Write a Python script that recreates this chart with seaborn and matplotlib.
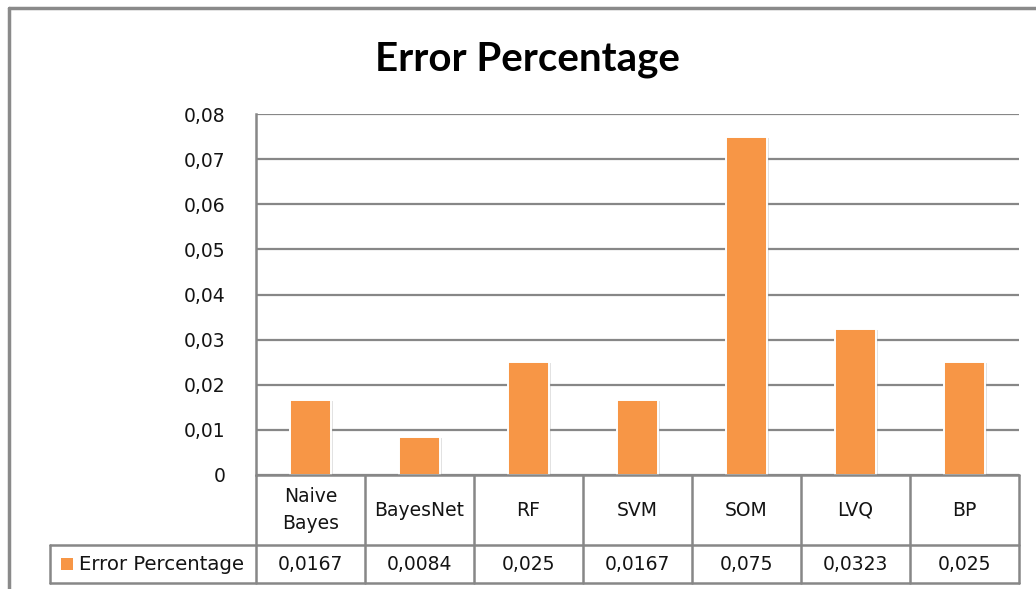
import matplotlib
matplotlib.use("Agg")
import matplotlib.pyplot as plt
import matplotlib.patheffects as pe
from matplotlib.lines import Line2D
from matplotlib.patches import Rectangle
import seaborn as sns
import pandas as pd

# ---- data ----
categories = ["Naive Bayes", "BayesNet", "RF", "SVM", "SOM", "LVQ", "BP"]
table_labels = ["Naive\nBayes", "BayesNet", "RF", "SVM", "SOM", "LVQ", "BP"]
values = [0.0167, 0.0084, 0.025, 0.0167, 0.075, 0.0323, 0.025]
series_name = "Error Percentage"
title = "Error Percentage"
yticks = [0, 0.01, 0.02, 0.03, 0.04, 0.05, 0.06, 0.07, 0.08]

sns.set_theme(style="white")
plt.rcParams["font.family"] = ["DejaVu Sans"]

BODY = 13.5
TXT_C = "#141414"

W, H = 1036, 589
fig = plt.figure(figsize=(W / 100, H / 100), dpi=100)
fig.patch.set_facecolor("white")

def fx(px):
    return px / W

def fy(py):
    return 1 - py / H

ax_left, ax_right, ax_top, ax_bottom = 256, 1019, 114, 475
ax = fig.add_axes([fx(ax_left), fy(ax_bottom), fx(ax_right - ax_left), (ax_bottom - ax_top) / H])

df = pd.DataFrame({"cat": categories, "val": values})
sns.barplot(data=df, x="cat", y="val", color="#F79646", saturation=1, width=0.385,
            ax=ax, edgecolor="white", linewidth=1.4, zorder=3)
for p in ax.patches:
    p.set_path_effects([pe.SimplePatchShadow(offset=(1.2, -0.8), shadow_rgbFace="#a0a0a0", alpha=0.3),
                        pe.Normal()])

ax.set_xlim(-0.5, len(categories) - 0.5)
ax.set_ylim(0, 0.08)
ax.set_yticks(yticks)
ax.set_yticklabels(["0" if t == 0 else f"{t:.2f}".replace(".", ",") for t in yticks],
                   fontsize=BODY, color=TXT_C)
ax.tick_params(axis="y", length=0, pad=22)
ax.set_xticks([])
ax.set_xlabel("")
ax.set_ylabel("")
grid_c = "#878787"
ax.yaxis.grid(True, color=grid_c, linewidth=1.6, zorder=0)
ax.set_axisbelow(True)
for s in ["top", "right", "bottom"]:
    ax.spines[s].set_visible(False)
ax.spines["left"].set_color(grid_c)
ax.spines["left"].set_linewidth(1.8)

# ---- data table beneath the plot ----
row1_bottom = 545
row2_bottom = 583
legend_left = 50
col_edges_px = []
for i in range(len(categories) + 1):
    xd = i - 0.5
    col_edges_px.append(ax.transData.transform((xd, 0))[0])

lw = 1.8
def hline(y, x0, x1):
    fig.add_artist(Line2D([fx(x0), fx(x1)], [fy(y), fy(y)], color=grid_c, linewidth=lw))

def vline(x, y0, y1):
    fig.add_artist(Line2D([fx(x), fx(x)], [fy(y0), fy(y1)], color=grid_c, linewidth=lw))

hline(ax_bottom, col_edges_px[0], col_edges_px[-1])
hline(row1_bottom, legend_left, col_edges_px[-1])
hline(row2_bottom, legend_left, col_edges_px[-1])
for xe in col_edges_px:
    vline(xe, ax_bottom, row2_bottom)
vline(legend_left, row1_bottom, row2_bottom)

for i, (lab, v) in enumerate(zip(table_labels, values)):
    xc = (col_edges_px[i] + col_edges_px[i + 1]) / 2
    fig.text(fx(xc), fy((ax_bottom + row1_bottom) / 2), lab, ha="center", va="center",
             fontsize=BODY, color=TXT_C, linespacing=1.5)
    fig.text(fx(xc), fy((row1_bottom + row2_bottom) / 2 + 1), f"{v}".replace(".", ","),
             ha="center", va="center", fontsize=BODY, color=TXT_C)

# legend key
fig.add_artist(Rectangle((fx(61), fy(570)), fx(12), 12 / H, facecolor="#F79646", edgecolor="none"))
fig.text(fx(79), fy((row1_bottom + row2_bottom) / 2 + 1), series_name, ha="left", va="center",
         fontsize=14.2, color=TXT_C)

# title
fig.text(fx(527), fy(71), title, ha="center", va="baseline", fontsize=29,
         fontweight="bold", color="black", family=["Lato", "DejaVu Sans"])

# outer chart frame (partially cropped)
fig.add_artist(Line2D([fx(9), fx(W + 5)], [fy(8), fy(8)], color="#8a8a8a", linewidth=2.5))
fig.add_artist(Line2D([fx(9), fx(9)], [fy(8), fy(H + 5)], color="#8a8a8a", linewidth=2.5))

fig.savefig("out.png", dpi=100, facecolor="white")
